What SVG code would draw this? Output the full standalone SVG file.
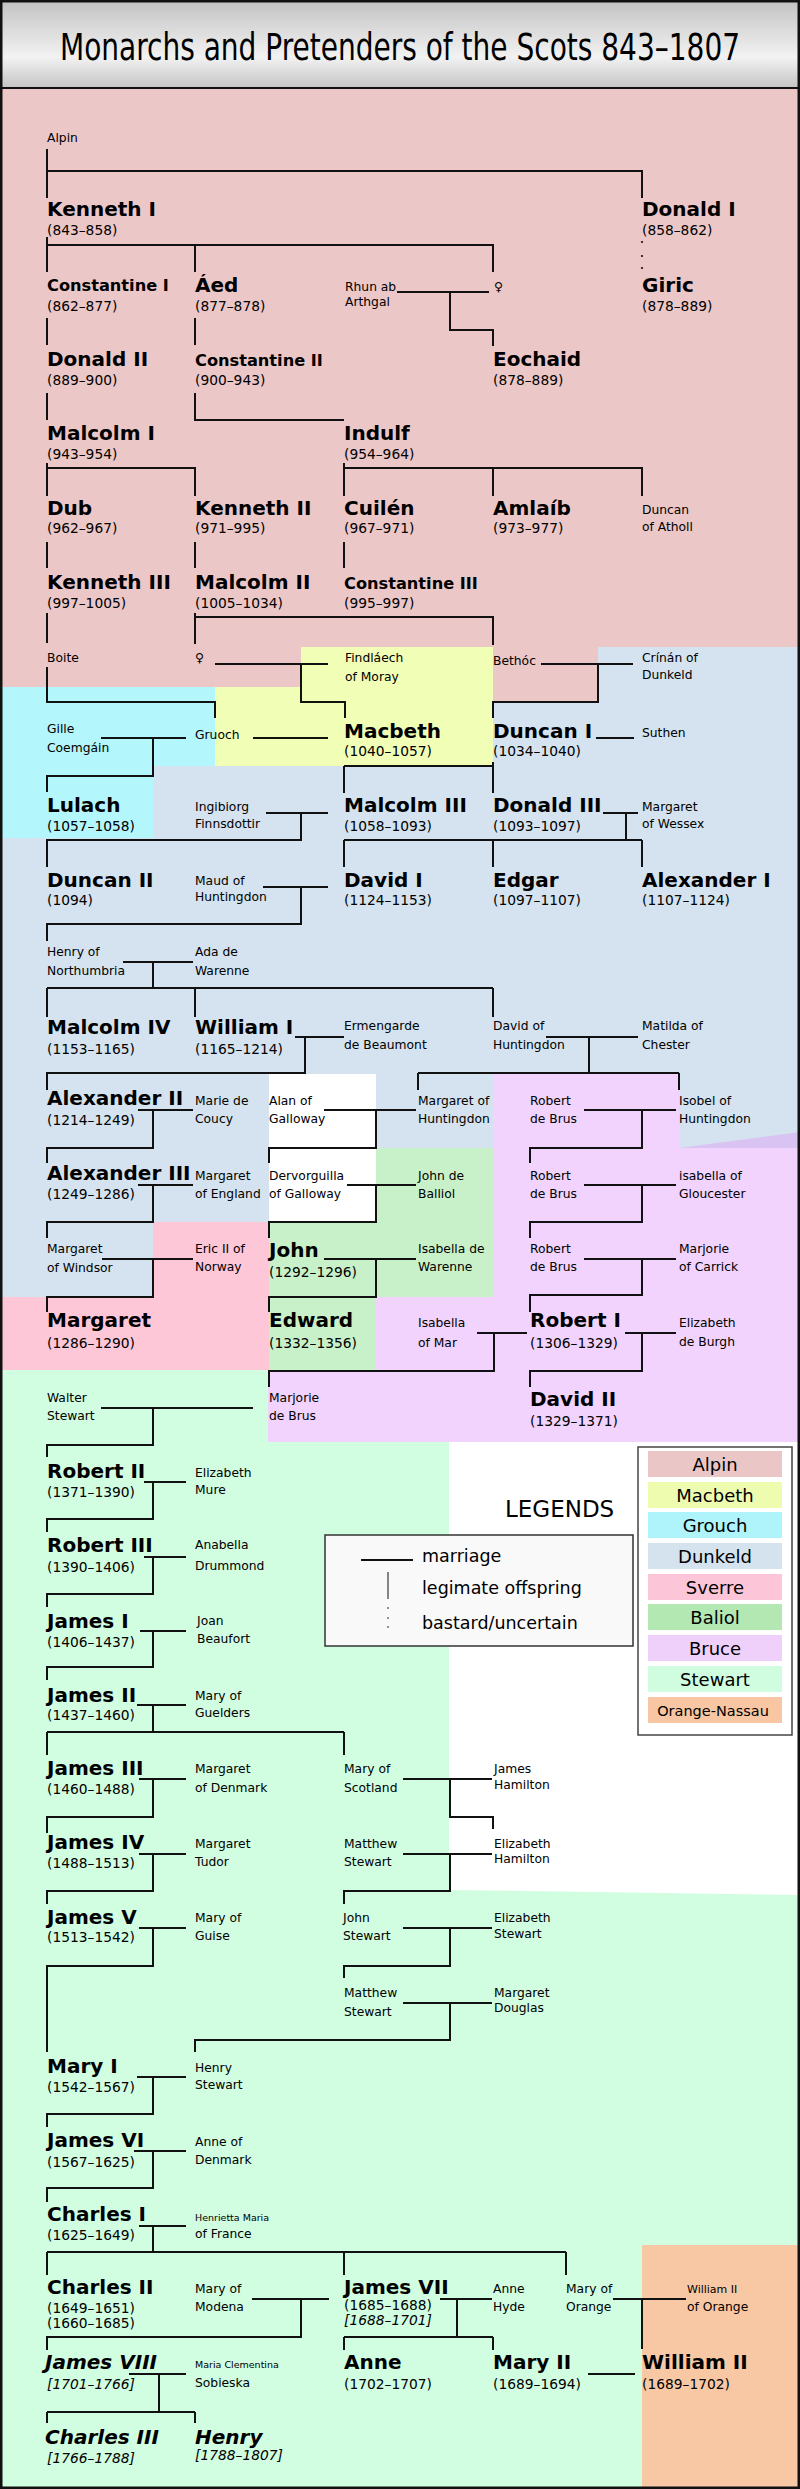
<svg xmlns="http://www.w3.org/2000/svg" width="800" height="2489" viewBox="0 0 800 2489">
<defs>
<linearGradient id="hdr" x1="0" y1="0" x2="0" y2="1">
<stop offset="0" stop-color="#c2c2c2"/>
<stop offset="0.65" stop-color="#f2f2f2"/>
<stop offset="1" stop-color="#c4c4c4"/>
</linearGradient>
<style>
text{font-family:'DejaVu Sans',sans-serif;fill:#000}
.n{font-size:20px;font-weight:bold}
.ns{font-size:16.2px;font-weight:bold}
.d{font-size:13.8px}
.s{font-size:12.3px}
.t{font-size:9.5px}
.i{font-style:italic}
.c{fill:none;stroke:#111;stroke-width:2}
.lg{font-size:18px;text-anchor:middle}
</style>
</defs>
<rect x="0" y="0" width="800" height="2489" fill="#fff"/>
<g id="backgrounds">
<rect x="0" y="647" width="800" height="723" fill="#d4e3ef"/>
<polygon points="0,88 800,88 800,647 598,647 598,702 493,702 493,647 301,647 301,687 0,687" fill="#ecc7c7"/>
<polygon points="301,647 493,647 493,766 215,766 215,687 301,687" fill="#f1feb6"/>
<polygon points="0,687 215,687 215,766 153,766 153,838 0,838" fill="#b3f6fb"/>
<rect x="269" y="1074" width="107" height="148" fill="#fff"/>
<polygon points="376,1148 493,1148 493,1297 376,1297 376,1370 269,1370 269,1222 376,1222" fill="#c9f1c9"/>
<polygon points="493,1074 679,1074 679,1148 800,1148 800,1442 268,1442 268,1370 376,1370 376,1297 493,1297" fill="#f1d3fd"/>
<polygon points="679,1148 800,1132 800,1148" fill="#d9c3f3"/>
<polygon points="153,1222 269,1222 269,1370 0,1370 0,1297 153,1297" fill="#fdc7d8"/>
<polygon points="0,1370 268,1370 268,1442 449,1442 449,1890 800,1895 800,2489 0,2489" fill="#d1fde0"/>
<rect x="642" y="2245" width="158" height="244" fill="#f8c8a4"/>
</g>
<g id="header">
<rect x="0" y="0" width="800" height="88" fill="url(#hdr)"/>
<line x1="0" y1="88" x2="800" y2="88" stroke="#111" stroke-width="2"/>
<text transform="translate(400 60) scale(0.842 1)" x="0" y="0" text-anchor="middle" style="font-family:'DejaVu Sans Condensed','DejaVu Sans',sans-serif;font-size:37px">Monarchs and Pretenders of the Scots 843–1807</text>
</g>
<g id="connectors">
<path class="c" d="M47 149V198M47 171H642V198
M47 237V272M47 245H493V272M195 245V272
M397 292H489M450 292V330H493V346
M47 318V345M195 318V345
M47 393V420M195 393V420H344
M47 463V496M47 468H195V496
M344 463V496M344 468H642V496M493 468V496
M47 542V568M195 542V568M344 542V568
M195 613V644M195 617H493V645M47 613V643
M215 664H328M301 664V702H345V718
M541 664H633M598 664V702H493V718
M47 667V702H215V718
M101 738H186M153 738V776H47V792
M253 738H328
M596 738H634
M493 762V793M344 766H493M344 766V793
M266 813H328M301 813V840H47V867
M603 813H638M626 813V840M344 840H642M344 840V867M493 840V867M642 840V867
M263 887H328M301 887V924H47V941
M123 962H193M153 962V988M47 988H493M47 988V1017M195 988V1017M493 988V1017
M295 1037H344M305 1037V1073H47V1090
M546 1037H638M589 1037V1073M418 1073H679M418 1073V1090M679 1073V1090
M138 1110H193M153 1110V1148H47V1163
M324 1110H416M376 1110V1148H269V1163
M584 1110H676M642 1110V1148H530V1163
M138 1185H193M153 1185V1222H47V1238
M347 1185H416M376 1185V1222H269V1238
M584 1185H676M642 1185V1222H530V1238
M102 1259H193M153 1259V1297H47V1312
M324 1259H416M376 1259V1297H269V1312
M584 1259H676M642 1259V1295H530V1312
M477 1333H527M494 1333V1371H269V1387
M625 1333H676M642 1333V1371H530V1387
M101 1408H253M153 1408V1445H47V1457
M144 1482H186M153 1482V1519H47V1532
M144 1557H186M153 1557V1594H47V1607
M140 1631H186M153 1631V1667H47V1680
M137 1705H186M153 1705V1732M47 1732H344M47 1732V1755M344 1732V1755
M139 1779H186M153 1779V1817H47V1833
M403 1779H492M450 1779V1817H493V1829
M139 1854H186M153 1854V1891H47V1904
M403 1854H492M450 1854V1891H344V1904
M139 1928H186M153 1928V1966H47V2052
M403 1928H492M450 1928V1966H344V1978
M403 2003H492M450 2003V2040H195V2052
M137 2077H186M153 2077V2114H47V2127
M134 2151H186M153 2151V2188H47V2202
M139 2226H186M153 2226V2252M47 2252H566M47 2252V2275M344 2252V2275M566 2252V2275
M252 2299H329M301 2299V2337H47V2350
M440 2299H492M457 2299V2337M344 2337H493M344 2337V2350M493 2337V2350
M613 2299H686M642 2299V2349
M129 2374H186M159 2374V2412M47 2412H195M47 2412V2423M195 2412V2423
M588 2374H635"/>
<circle cx="642" cy="242" r="1.1" fill="#111"/>
<circle cx="642" cy="256" r="1.1" fill="#111"/>
<circle cx="642" cy="268" r="1.1" fill="#111"/>
</g>
<g id="alpin"><text class="s" x="47" y="142">Alpin</text></g>
<g id="kenneth-i"><text class="n" x="47" y="216">Kenneth I</text><text class="d" x="47" y="235">(843–858)</text></g>
<g id="donald-i"><text class="n" x="642" y="216">Donald I</text><text class="d" x="642" y="235">(858–862)</text></g>
<g id="constantine-i"><text class="ns" x="47" y="291">Constantine I</text><text class="d" x="47" y="311">(862–877)</text></g>
<g id="aed"><text class="n" x="195" y="292">Áed</text><text class="d" x="195" y="311">(877–878)</text></g>
<g id="rhun"><text class="s" x="345" y="291">Rhun ab</text><text class="s" x="345" y="306">Arthgal</text></g>
<g id="daughter-kenneth"><text class="s" x="494" y="291">♀</text></g>
<g id="giric"><text class="n" x="642" y="292">Giric</text><text class="d" x="642" y="311">(878–889)</text></g>
<g id="donald-ii"><text class="n" x="47" y="366">Donald II</text><text class="d" x="47" y="385">(889–900)</text></g>
<g id="constantine-ii"><text class="ns" x="195" y="366">Constantine II</text><text class="d" x="195" y="385">(900–943)</text></g>
<g id="eochaid"><text class="n" x="493" y="366">Eochaid</text><text class="d" x="493" y="385">(878–889)</text></g>
<g id="malcolm-i"><text class="n" x="47" y="440">Malcolm I</text><text class="d" x="47" y="459">(943–954)</text></g>
<g id="indulf"><text class="n" x="344" y="440">Indulf</text><text class="d" x="344" y="459">(954–964)</text></g>
<g id="dub"><text class="n" x="47" y="515">Dub</text><text class="d" x="47" y="533">(962–967)</text></g>
<g id="kenneth-ii"><text class="n" x="195" y="515">Kenneth II</text><text class="d" x="195" y="533">(971–995)</text></g>
<g id="cuilen"><text class="n" x="344" y="515">Cuilén</text><text class="d" x="344" y="533">(967–971)</text></g>
<g id="amlaib"><text class="n" x="493" y="515">Amlaíb</text><text class="d" x="493" y="533">(973–977)</text></g>
<g id="duncan-atholl"><text class="s" x="642" y="514">Duncan</text><text class="s" x="642" y="531">of Atholl</text></g>
<g id="kenneth-iii"><text class="n" x="47" y="589">Kenneth III</text><text class="d" x="47" y="608">(997–1005)</text></g>
<g id="malcolm-ii"><text class="n" x="195" y="589">Malcolm II</text><text class="d" x="195" y="608">(1005–1034)</text></g>
<g id="constantine-iii"><text class="ns" x="344" y="589">Constantine III</text><text class="d" x="344" y="608">(995–997)</text></g>
<g id="boite"><text class="s" x="47" y="662">Boite</text></g>
<g id="daughter-malcolm"><text class="s" x="195" y="662">♀</text></g>
<g id="findlaech"><text class="s" x="345" y="662">Findláech</text><text class="s" x="345" y="681">of Moray</text></g>
<g id="bethoc"><text class="s" x="493" y="665">Bethóc</text></g>
<g id="crinan"><text class="s" x="642" y="662">Crínán of</text><text class="s" x="642" y="679">Dunkeld</text></g>
<g id="gille"><text class="s" x="47" y="733">Gille</text><text class="s" x="47" y="752">Coemgáin</text></g>
<g id="gruoch"><text class="s" x="195" y="739">Gruoch</text></g>
<g id="macbeth"><text class="n" x="344" y="738">Macbeth</text><text class="d" x="344" y="756">(1040–1057)</text></g>
<g id="duncan-i"><text class="n" x="493" y="738">Duncan I</text><text class="d" x="493" y="756">(1034–1040)</text></g>
<g id="suthen"><text class="s" x="642" y="737">Suthen</text></g>
<g id="lulach"><text class="n" x="47" y="812">Lulach</text><text class="d" x="47" y="831">(1057–1058)</text></g>
<g id="ingibiorg"><text class="s" x="195" y="811">Ingibiorg</text><text class="s" x="195" y="828">Finnsdottir</text></g>
<g id="malcolm-iii"><text class="n" x="344" y="812">Malcolm III</text><text class="d" x="344" y="831">(1058–1093)</text></g>
<g id="donald-iii"><text class="n" x="493" y="812">Donald III</text><text class="d" x="493" y="831">(1093–1097)</text></g>
<g id="margaret-wessex"><text class="s" x="642" y="811">Margaret</text><text class="s" x="642" y="828">of Wessex</text></g>
<g id="duncan-ii"><text class="n" x="47" y="887">Duncan II</text><text class="d" x="47" y="905">(1094)</text></g>
<g id="maud"><text class="s" x="195" y="885">Maud of</text><text class="s" x="195" y="901">Huntingdon</text></g>
<g id="david-i"><text class="n" x="344" y="887">David I</text><text class="d" x="344" y="905">(1124–1153)</text></g>
<g id="edgar"><text class="n" x="493" y="887">Edgar</text><text class="d" x="493" y="905">(1097–1107)</text></g>
<g id="alexander-i"><text class="n" x="642" y="887">Alexander I</text><text class="d" x="642" y="905">(1107–1124)</text></g>
<g id="henry-northumbria"><text class="s" x="47" y="956">Henry of</text><text class="s" x="47" y="975">Northumbria</text></g>
<g id="ada"><text class="s" x="195" y="956">Ada de</text><text class="s" x="195" y="975">Warenne</text></g>
<g id="malcolm-iv"><text class="n" x="47" y="1034">Malcolm IV</text><text class="d" x="47" y="1054">(1153–1165)</text></g>
<g id="william-i"><text class="n" x="195" y="1034">William I</text><text class="d" x="195" y="1054">(1165–1214)</text></g>
<g id="ermengarde"><text class="s" x="344" y="1030">Ermengarde</text><text class="s" x="344" y="1049">de Beaumont</text></g>
<g id="david-huntingdon"><text class="s" x="493" y="1030">David of</text><text class="s" x="493" y="1049">Huntingdon</text></g>
<g id="matilda"><text class="s" x="642" y="1030">Matilda of</text><text class="s" x="642" y="1049">Chester</text></g>
<g id="alexander-ii"><text class="n" x="47" y="1105">Alexander II</text><text class="d" x="47" y="1125">(1214–1249)</text></g>
<g id="marie"><text class="s" x="195" y="1105">Marie de</text><text class="s" x="195" y="1123">Coucy</text></g>
<g id="alan"><text class="s" x="269" y="1105">Alan of</text><text class="s" x="269" y="1123">Galloway</text></g>
<g id="margaret-huntingdon"><text class="s" x="418" y="1105">Margaret of</text><text class="s" x="418" y="1123">Huntingdon</text></g>
<g id="robert-brus-1"><text class="s" x="530" y="1105">Robert</text><text class="s" x="530" y="1123">de Brus</text></g>
<g id="isobel"><text class="s" x="679" y="1105">Isobel of</text><text class="s" x="679" y="1123">Huntingdon</text></g>
<g id="alexander-iii"><text class="n" x="47" y="1180">Alexander III</text><text class="d" x="47" y="1199">(1249–1286)</text></g>
<g id="margaret-england"><text class="s" x="195" y="1180">Margaret</text><text class="s" x="195" y="1198">of England</text></g>
<g id="dervorguilla"><text class="s" x="269" y="1180">Dervorguilla</text><text class="s" x="269" y="1198">of Galloway</text></g>
<g id="john-balliol"><text class="s" x="418" y="1180">John de</text><text class="s" x="418" y="1198">Balliol</text></g>
<g id="robert-brus-2"><text class="s" x="530" y="1180">Robert</text><text class="s" x="530" y="1198">de Brus</text></g>
<g id="isabella-gloucester"><text class="s" x="679" y="1180">isabella of</text><text class="s" x="679" y="1198">Gloucester</text></g>
<g id="margaret-windsor"><text class="s" x="47" y="1253">Margaret</text><text class="s" x="47" y="1272">of Windsor</text></g>
<g id="eric"><text class="s" x="195" y="1253">Eric II of</text><text class="s" x="195" y="1271">Norway</text></g>
<g id="john"><text class="n" x="269" y="1257">John</text><text class="d" x="269" y="1277">(1292–1296)</text></g>
<g id="isabella-warenne"><text class="s" x="418" y="1253">Isabella de</text><text class="s" x="418" y="1271">Warenne</text></g>
<g id="robert-brus-3"><text class="s" x="530" y="1253">Robert</text><text class="s" x="530" y="1271">de Brus</text></g>
<g id="marjorie-carrick"><text class="s" x="679" y="1253">Marjorie</text><text class="s" x="679" y="1271">of Carrick</text></g>
<g id="margaret"><text class="n" x="47" y="1327">Margaret</text><text class="d" x="47" y="1348">(1286–1290)</text></g>
<g id="edward"><text class="n" x="269" y="1327">Edward</text><text class="d" x="269" y="1348">(1332–1356)</text></g>
<g id="isabella-mar"><text class="s" x="418" y="1327">Isabella</text><text class="s" x="418" y="1347">of Mar</text></g>
<g id="robert-i"><text class="n" x="530" y="1327">Robert I</text><text class="d" x="530" y="1348">(1306–1329)</text></g>
<g id="elizabeth-burgh"><text class="s" x="679" y="1327">Elizabeth</text><text class="s" x="679" y="1346">de Burgh</text></g>
<g id="walter"><text class="s" x="47" y="1402">Walter</text><text class="s" x="47" y="1420">Stewart</text></g>
<g id="marjorie-brus"><text class="s" x="269" y="1402">Marjorie</text><text class="s" x="269" y="1420">de Brus</text></g>
<g id="david-ii"><text class="n" x="530" y="1406">David II</text><text class="d" x="530" y="1426">(1329–1371)</text></g>
<g id="robert-ii"><text class="n" x="47" y="1478">Robert II</text><text class="d" x="47" y="1497">(1371–1390)</text></g>
<g id="elizabeth-mure"><text class="s" x="195" y="1477">Elizabeth</text><text class="s" x="195" y="1494">Mure</text></g>
<g id="robert-iii"><text class="n" x="47" y="1552">Robert III</text><text class="d" x="47" y="1572">(1390–1406)</text></g>
<g id="anabella"><text class="s" x="195" y="1549">Anabella</text><text class="s" x="195" y="1570">Drummond</text></g>
<g id="james-i"><text class="n" x="47" y="1628">James I</text><text class="d" x="47" y="1647">(1406–1437)</text></g>
<g id="joan"><text class="s" x="197" y="1625">Joan</text><text class="s" x="197" y="1643">Beaufort</text></g>
<g id="james-ii"><text class="n" x="47" y="1702">James II</text><text class="d" x="47" y="1720">(1437–1460)</text></g>
<g id="mary-guelders"><text class="s" x="195" y="1700">Mary of</text><text class="s" x="195" y="1717">Guelders</text></g>
<g id="james-iii"><text class="n" x="47" y="1775">James III</text><text class="d" x="47" y="1794">(1460–1488)</text></g>
<g id="margaret-denmark"><text class="s" x="195" y="1773">Margaret</text><text class="s" x="195" y="1792">of Denmark</text></g>
<g id="mary-scotland"><text class="s" x="344" y="1773">Mary of</text><text class="s" x="344" y="1792">Scotland</text></g>
<g id="james-hamilton"><text class="s" x="494" y="1773">James</text><text class="s" x="494" y="1789">Hamilton</text></g>
<g id="james-iv"><text class="n" x="47" y="1849">James IV</text><text class="d" x="47" y="1868">(1488–1513)</text></g>
<g id="margaret-tudor"><text class="s" x="195" y="1848">Margaret</text><text class="s" x="195" y="1866">Tudor</text></g>
<g id="matthew-stewart-1"><text class="s" x="344" y="1848">Matthew</text><text class="s" x="344" y="1866">Stewart</text></g>
<g id="elizabeth-hamilton"><text class="s" x="494" y="1848">Elizabeth</text><text class="s" x="494" y="1863">Hamilton</text></g>
<g id="james-v"><text class="n" x="47" y="1924">James V</text><text class="d" x="47" y="1942">(1513–1542)</text></g>
<g id="mary-guise"><text class="s" x="195" y="1922">Mary of</text><text class="s" x="195" y="1940">Guise</text></g>
<g id="john-stewart"><text class="s" x="343" y="1922">John</text><text class="s" x="343" y="1940">Stewart</text></g>
<g id="elizabeth-stewart"><text class="s" x="494" y="1922">Elizabeth</text><text class="s" x="494" y="1938">Stewart</text></g>
<g id="matthew-stewart-2"><text class="s" x="344" y="1997">Matthew</text><text class="s" x="344" y="2016">Stewart</text></g>
<g id="margaret-douglas"><text class="s" x="494" y="1997">Margaret</text><text class="s" x="494" y="2012">Douglas</text></g>
<g id="mary-i"><text class="n" x="47" y="2073">Mary I</text><text class="d" x="47" y="2092">(1542–1567)</text></g>
<g id="henry-stewart"><text class="s" x="195" y="2072">Henry</text><text class="s" x="195" y="2089">Stewart</text></g>
<g id="james-vi"><text class="n" x="47" y="2147">James VI</text><text class="d" x="47" y="2167">(1567–1625)</text></g>
<g id="anne-denmark"><text class="s" x="195" y="2146">Anne of</text><text class="s" x="195" y="2164">Denmark</text></g>
<g id="charles-i"><text class="n" x="47" y="2221">Charles I</text><text class="d" x="47" y="2240">(1625–1649)</text></g>
<g id="henrietta"><text class="t" x="195" y="2221">Henrietta Maria</text><text class="s" x="195" y="2238">of France</text></g>
<g id="charles-ii"><text class="n" x="47" y="2294">Charles II</text><text class="d" x="47" y="2313">(1649–1651)</text><text class="d" x="47" y="2328">(1660–1685)</text></g>
<g id="mary-modena"><text class="s" x="195" y="2293">Mary of</text><text class="s" x="195" y="2311">Modena</text></g>
<g id="james-vii"><text class="n" x="344" y="2294">James VII</text><text class="d" x="344" y="2310">(1685–1688)</text><text class="d i" x="344" y="2325">[1688–1701]</text></g>
<g id="anne-hyde"><text class="s" x="493" y="2293">Anne</text><text class="s" x="493" y="2311">Hyde</text></g>
<g id="mary-orange"><text class="s" x="566" y="2293">Mary of</text><text class="s" x="566" y="2311">Orange</text></g>
<g id="william-ii-orange"><text class="s" x="687" y="2293" style="font-size:11px">William II</text><text class="s" x="687" y="2311">of Orange</text></g>
<g id="james-viii"><text class="n i" x="45" y="2369">James VIII</text><text class="d i" x="47" y="2389">[1701–1766]</text></g>
<g id="maria-clementina"><text class="t" x="195" y="2368">Maria Clementina</text><text class="s" x="195" y="2387">Sobieska</text></g>
<g id="anne"><text class="n" x="344" y="2369">Anne</text><text class="d" x="344" y="2389">(1702–1707)</text></g>
<g id="mary-ii"><text class="n" x="493" y="2369">Mary II</text><text class="d" x="493" y="2389">(1689–1694)</text></g>
<g id="william-ii"><text class="n" x="642" y="2369">William II</text><text class="d" x="642" y="2389">(1689–1702)</text></g>
<g id="charles-iii"><text class="n i" x="45" y="2444">Charles III</text><text class="d i" x="47" y="2463">[1766–1788]</text></g>
<g id="henry"><text class="n i" x="195" y="2444">Henry</text><text class="d i" x="195" y="2460">[1788–1807]</text></g>
<g id="legend-lines">
<text x="505" y="1517" style="font-size:23px">LEGENDS</text>
<rect x="325" y="1535" width="308" height="111" fill="#f9f9f9" stroke="#333" stroke-width="1.5"/>
<line x1="361" y1="1560" x2="413" y2="1560" stroke="#111" stroke-width="2"/>
<text x="422" y="1562" style="font-size:17.5px">marriage</text>
<line x1="388" y1="1572" x2="388" y2="1599" stroke="#111" stroke-width="1"/>
<text x="422" y="1594" style="font-size:17.5px">legimate offspring</text>
<circle cx="388" cy="1608" r="0.8" fill="#111"/>
<circle cx="388" cy="1618" r="0.8" fill="#111"/>
<circle cx="388" cy="1627" r="0.8" fill="#111"/>
<text x="422" y="1629" style="font-size:17.5px">bastard/uncertain</text>
</g>
<g id="legend-colours">
<rect x="638" y="1447" width="154" height="288" fill="#fff" stroke="#444" stroke-width="1.5"/>
<rect x="648" y="1451" width="134" height="26" fill="#ebc6c6"/>
<text class="lg" x="715" y="1471">Alpin</text>
<rect x="648" y="1482" width="134" height="26" fill="#eefcb0"/>
<text class="lg" x="715" y="1502">Macbeth</text>
<rect x="648" y="1512" width="134" height="26" fill="#aef4fa"/>
<text class="lg" x="715" y="1532">Grouch</text>
<rect x="648" y="1543" width="134" height="26" fill="#d4e3ee"/>
<text class="lg" x="715" y="1563">Dunkeld</text>
<rect x="648" y="1574" width="134" height="26" fill="#fcc6d8"/>
<text class="lg" x="715" y="1594">Sverre</text>
<rect x="648" y="1604" width="134" height="26" fill="#b3e8b3"/>
<text class="lg" x="715" y="1624">Baliol</text>
<rect x="648" y="1635" width="134" height="26" fill="#efd0fa"/>
<text class="lg" x="715" y="1655">Bruce</text>
<rect x="648" y="1666" width="134" height="26" fill="#d0fcdf"/>
<text class="lg" x="715" y="1686">Stewart</text>
<rect x="648" y="1697" width="134" height="26" fill="#f8c6a2"/>
<text class="lg" x="713" y="1716" style="font-size:14.5px">Orange-Nassau</text>
</g>
<rect x="1.25" y="1.25" width="797.5" height="2486.5" fill="none" stroke="#111" stroke-width="2.5"/>
</svg>
